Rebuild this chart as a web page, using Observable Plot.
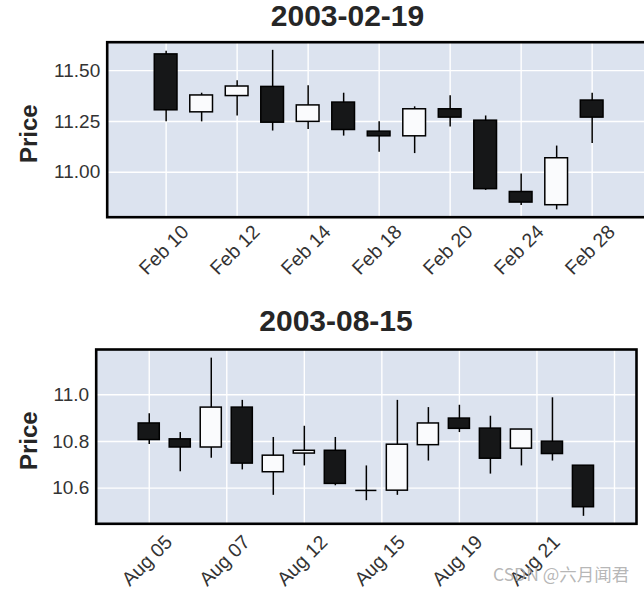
<!DOCTYPE html>
<html><head><meta charset="utf-8">
<script src="https://cdn.jsdelivr.net/npm/d3@7"></script>
<script src="https://cdn.jsdelivr.net/npm/@observablehq/plot@0.6"></script>
<style>
html,body{margin:0;padding:0;background:#fff;overflow:hidden;}
#wrap{position:relative;width:644px;height:595px;overflow:hidden;font-family:"Liberation Sans",Arial,sans-serif;}
.panel{position:absolute;left:0;max-width:none !important;}
.title{position:absolute;font-weight:bold;font-size:30px;line-height:1;color:#262626;transform:translateX(-50%);white-space:nowrap;}
.mark{position:absolute;left:493px;top:563px;font-family:"Noto Sans CJK SC","Liberation Sans",sans-serif;font-size:17.5px;line-height:1.2;color:rgba(170,170,170,0.85);white-space:nowrap;}
</style></head><body><div id="wrap"></div>
<script>
// ---- Panel 1: 2003-02-19 ----
const febTitle = "2003-02-19";
const febOpen  = [11.580, 11.295, 11.375, 11.420, 11.248, 11.343, 11.200, 11.177, 11.310, 11.254, 10.903, 10.838, 11.353];
const febHigh  = [11.596, 11.389, 11.450, 11.600, 11.426, 11.389, 11.248, 11.322, 11.376, 11.277, 10.992, 11.129, 11.389];
const febLow   = [11.249, 11.248, 11.277, 11.203, 11.210, 11.178, 11.099, 11.092, 11.223, 10.911, 10.837, 10.815, 11.142];
const febClose = [11.305, 11.378, 11.422, 11.244, 11.329, 11.208, 11.177, 11.310, 11.269, 10.917, 10.851, 11.069, 11.269];
const febTickPos    = [0, 2, 4, 6, 8, 10, 12];
const febTickLabels = ["Feb 10", "Feb 12", "Feb 14", "Feb 18", "Feb 20", "Feb 24", "Feb 28"];
const febYTicks      = [11.00, 11.25, 11.50];
const febYTickLabels = ["11.00", "11.25", "11.50"];

// ---- Panel 2: 2003-08-15 ----
const augTitle = "2003-08-15";
const augOpen  = [10.877, 10.809, 10.774, 10.945, 10.668, 10.748, 10.760, 10.590, 10.589, 10.784, 10.898, 10.855, 10.769, 10.799, 10.696];
const augHigh  = [10.919, 10.838, 11.157, 10.976, 10.817, 10.865, 10.817, 10.695, 10.976, 10.945, 10.955, 10.908, 10.851, 10.987, 10.696];
const augLow   = [10.787, 10.670, 10.728, 10.678, 10.569, 10.695, 10.610, 10.546, 10.569, 10.716, 10.838, 10.660, 10.695, 10.716, 10.479];
const augClose = [10.806, 10.774, 10.945, 10.705, 10.739, 10.760, 10.618, 10.590, 10.786, 10.877, 10.854, 10.726, 10.851, 10.746, 10.518];
const augTickPos    = [0, 2.5, 5, 7.5, 10, 12.5, 15];
const augTickLabels = ["Aug 05", "Aug 07", "Aug 12", "Aug 15", "Aug 19", "Aug 21", ""];
const augYTicks      = [10.6, 10.8, 11.0];
const augYTickLabels = ["10.6", "10.8", "11.0"];

const yLabel = "Price";
const watermark = "CSDN @六月闻君";

function toCandles(o, h, l, c) {
  return o.map((v, i) => ({i, open: v, high: h[i], low: l[i], close: c[i]}));
}

function panel(cfg) {
  const candles = toCandles(cfg.open, cfg.high, cfg.low, cfg.close);
  const hw = cfg.halfWidth;
  const dojis = candles.filter(d => d.open === d.close);
  return Plot.plot({
    width: cfg.width, height: cfg.height,
    marginLeft: cfg.ml, marginRight: cfg.mr, marginTop: cfg.mt, marginBottom: cfg.mb,
    style: {fontFamily: '"Liberation Sans", Arial, sans-serif', background: "transparent", overflow: "visible", maxWidth: "none"},
    x: {domain: cfg.xDomain, axis: null},
    y: {domain: cfg.yDomain, axis: null},
    marks: [
      Plot.frame({fill: "#DCE3EF"}),
      Plot.ruleX(cfg.tickPos, {stroke: "#ffffff", strokeWidth: 1.4}),
      Plot.ruleY(cfg.yTicks, {stroke: "#ffffff", strokeWidth: 1.4}),
      Plot.ruleX(candles, {x: "i", y1: "low", y2: "high", stroke: "#000", strokeWidth: 1.5}),
      Plot.rect(candles, {
        x1: d => d.i - hw, x2: d => d.i + hw, y1: "open", y2: "close",
        fill: d => d.close >= d.open ? "#fafbfd" : "#161718",
        stroke: "#000", strokeWidth: 1.5
      }),
      Plot.ruleY(dojis, {y: "open", x1: d => d.i - hw, x2: d => d.i + hw, stroke: "#000", strokeWidth: 1.5}),
      Plot.frame({stroke: "#000", strokeWidth: 2.6}),
      Plot.text(cfg.yTicks, {
        y: d => d, text: (d, i) => cfg.yTickLabels[i], frameAnchor: "left",
        textAnchor: "end", dx: -7, fontSize: 19, fill: "#333"
      }),
      Plot.text(cfg.tickPos, {
        x: d => d, text: (d, i) => cfg.tickLabels[i], frameAnchor: "bottom",
        rotate: -45, textAnchor: "middle", lineAnchor: "middle", dx: -2, dy: cfg.xdy, fontSize: 19.5, fill: "#333"
      }),
      Plot.text([yLabel], {
        text: d => d, frameAnchor: "left", rotate: -90, textAnchor: "middle", lineAnchor: "middle",
        dx: cfg.ylx, dy: 4, fontSize: 24, fontWeight: "bold", fill: "#262626"
      })
    ]
  });
}

const wrap = document.getElementById("wrap");

const p1 = panel({
  open: febOpen, high: febHigh, low: febLow, close: febClose,
  tickPos: febTickPos, tickLabels: febTickLabels, yTicks: febYTicks, yTickLabels: febYTickLabels,
  width: 660, height: 300, ml: 106.7, mr: 9.4, mt: 41.7, mb: 83.3,
  xDomain: [-1.66, 13.66], yDomain: [10.779, 11.640], halfWidth: 0.32, xdy: 33, ylx: -77.4
});
p1.classList.add("panel"); p1.style.top = "0px";
wrap.appendChild(p1);

const p2 = panel({
  open: augOpen, high: augHigh, low: augLow, close: augClose,
  tickPos: augTickPos, tickLabels: augTickLabels, yTicks: augYTicks, yTickLabels: augYTickLabels,
  width: 644, height: 295, ml: 95.7, mr: 8, mt: 49, mb: 71.7,
  xDomain: [-1.71, 15.71], yDomain: [10.447, 11.194], halfWidth: 0.34, xdy: 37, ylx: -66.4
});
p2.classList.add("panel"); p2.style.top = "300px";
wrap.appendChild(p2);

function addTitle(text, cx, top) {
  const t = document.createElement("div");
  t.className = "title";
  t.textContent = text;
  t.style.left = cx + "px";
  t.style.top = top + "px";
  wrap.appendChild(t);
}
addTitle(febTitle, 347.5, 1.3);
addTitle(augTitle, 336, 306.3);

const wm = document.createElement("div");
wm.className = "mark";
wm.textContent = watermark;
wrap.appendChild(wm);
</script>
</body></html>
